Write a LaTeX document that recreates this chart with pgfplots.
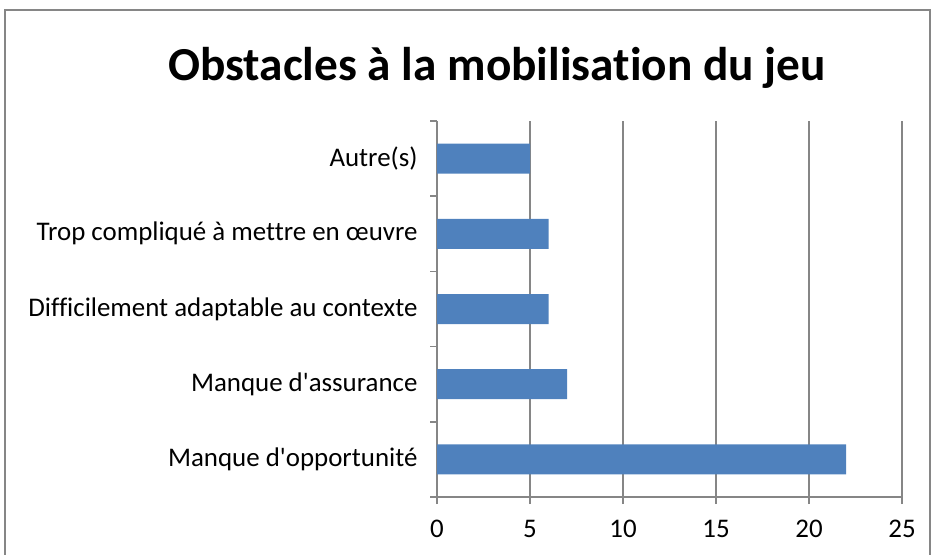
\documentclass[border=0pt]{standalone}
\usepackage{pgfplots}
\pgfplotsset{compat=1.18}
\usepackage{fontspec}
\setmainfont{Carlito}[Ligatures={TeXOff,NoCommon}]
\definecolor{barblue}{HTML}{4F81BD}
\definecolor{gridgray}{HTML}{868686}
\begin{document}
\begin{tikzpicture}[x=1bp,y=1bp]
\useasboundingbox (0,0) rectangle (931,-555);
\draw[gridgray,line width=1.5bp] (5,-600) -- (5,-10) -- (930,-10) -- (930,-600);
\node[font=\fontsize{47.5}{56}\bfseries\selectfont] at (497,-68) {Obstacles à la mobilisation du jeu};
\begin{axis}[
  at={(437bp,-497bp)}, anchor=south west,
  scale only axis,
  width=465bp, height=376bp,
  xmin=0, xmax=25,
  ymin=-0.5, ymax=4.5,
  xtick={0,5,...,25},
  ytick={-0.5,0.5,...,4.5},
  yticklabels={},
  extra y ticks={0,1,2,3,4},
  extra y tick labels={Manque d'opportunité,Manque d'assurance,Difficilement adaptable au contexte,Trop compliqué à mettre en œuvre,Autre(s)},
  extra y tick style={major tick length=0pt, grid=none},
  axis lines*=left,
  axis line style={gridgray, line width=1.5bp},
  tick align=outside,
  major tick length=7bp,
  tick style={gridgray, line width=1.5bp},
  xmajorgrids,
  grid style={gridgray, line width=1.5bp},
  ticklabel style={font=\fontsize{27}{32}\selectfont},
  yticklabel style={xshift=-16bp},
  xticklabel style={yshift=-13bp},
  /pgf/number format/assume math mode=true,
  xbar, bar width=30bp,
  clip=false,
]
\addplot[fill=barblue, draw=none] coordinates {
  (22,0) (7,1) (6,2) (6,3) (5,4)
};
\end{axis}
\end{tikzpicture}
\end{document}
